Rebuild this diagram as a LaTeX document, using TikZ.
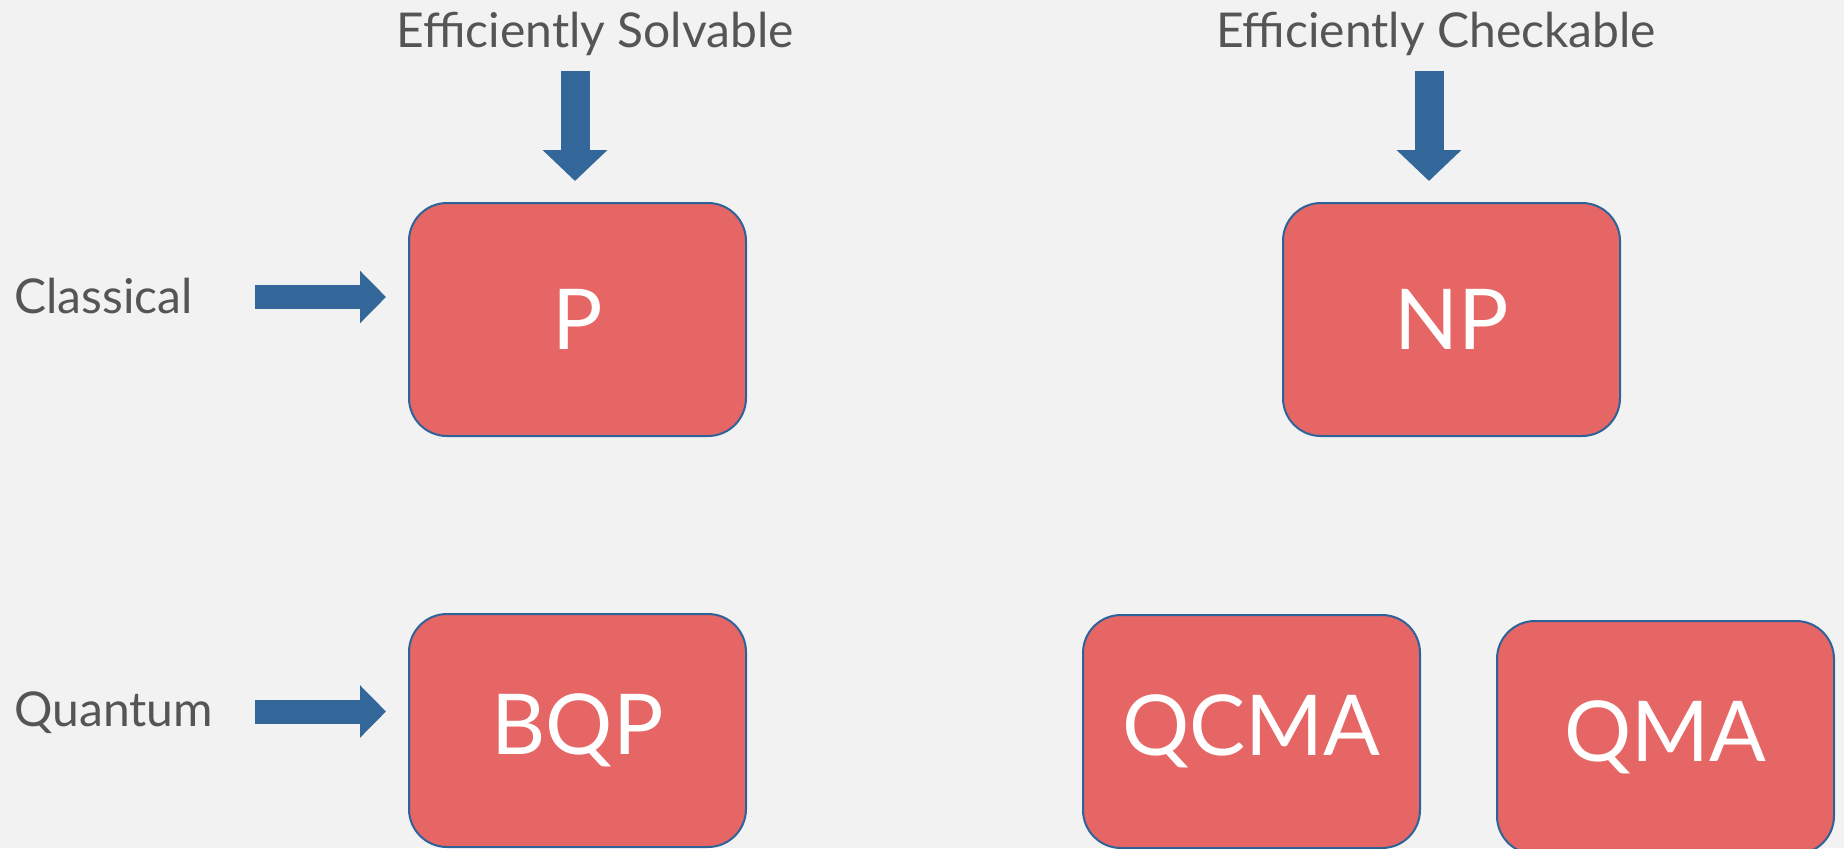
\documentclass[tikz,border=0pt]{standalone}
\usepackage{fontspec}
\setmainfont{Lato}
\usetikzlibrary{positioning,arrows.meta}
\definecolor{clsred}{HTML}{E66565}
\definecolor{clsblue}{HTML}{336699}
\definecolor{clsedge}{HTML}{2E6399}
\definecolor{clsgray}{HTML}{555555}
\definecolor{clsbg}{HTML}{F2F2F2}
\tikzset{
    cls/.style={draw=clsedge,line width=1pt,fill=clsred,rounded corners=19pt,
        minimum width=168.5pt,minimum height=116.5pt,text=white,
        font=\fontsize{42}{48}\selectfont},
    tag/.style={text=clsgray,font=\fontsize{24}{28}\selectfont,inner sep=0pt},
    sidearrow/.style={draw=clsblue,line width=12pt,
        -{Triangle[length=13pt,width=25.5pt]},shorten >=11pt},
    toparrow/.style={draw=clsblue,line width=14.5pt,
        -{Triangle[length=15.5pt,width=31.5pt]},shorten >=10.5pt},
}
\begin{document}
\begin{tikzpicture}[x=0.5pt,y=-0.5pt,node distance=88pt]
    \fill[clsbg] (0,0) rectangle (1844,848);
    \useasboundingbox (0,0) rectangle (1844,848);

    % complexity classes
    \node[cls] (p) at (577.5,319.5) {P};
    \node[cls,right=267.5pt of p] (np) {NP};
    \node[cls,below=of p] (bqp) {BQP};
    \node[cls,right=167.5pt of bqp,yshift=-0.5pt] (qcma) {QCMA};
    \node[cls,right=37.5pt of qcma,yshift=-3pt] (qma) {QMA};

    % headings
    \node[tag,anchor=base] (solv) at (595,47) {Efficiently Solvable};
    \node[tag,anchor=base] (check) at (1436,47) {Efficiently Checkable};
    \node[tag,anchor=base west] (clas) at (14,313) {Classical};
    \node[tag,anchor=base west] (quan) at (14,726) {Quantum};

    \coordinate (solvtail) at (575,71);
    \coordinate (checktail) at (1429,71);
    \coordinate (clastail) at (255,297);
    \coordinate (quantail) at (255,711.5);

    \draw[toparrow] (solvtail) -- (solvtail |- p.north);
    \draw[toparrow] (checktail) -- (checktail |- np.north);
    \draw[sidearrow] (clastail) -- (clastail -| p.west);
    \draw[sidearrow] (quantail) -- (quantail -| bqp.west);
\end{tikzpicture}
\end{document}
